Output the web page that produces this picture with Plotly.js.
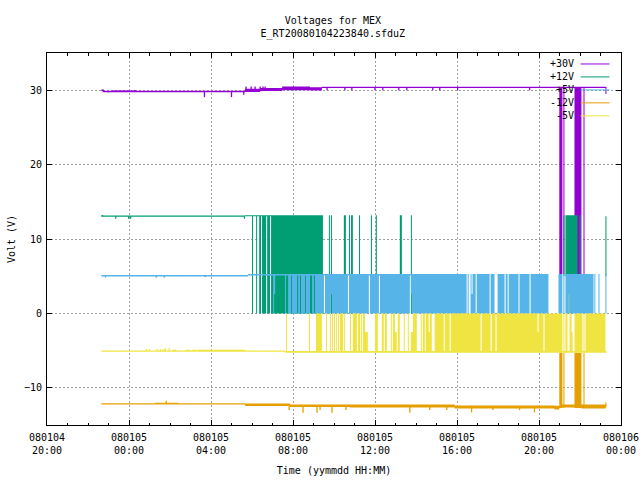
<!DOCTYPE html>
<html><head><meta charset="utf-8">
<script src="https://cdn.plot.ly/plotly-3.0.1.min.js"></script>
<style>html,body{margin:0;padding:0;background:#fff}</style>
</head><body><div id="chart" style="width:640px;height:480px"></div>
<script>
// Time values are hours after 080105 00:00; voltages in volts.
const seriesNames = ["+30V", "+12V", "+5V", "-12V", "-5V"];
const seriesColors = ["#9400D3", "#009E73", "#56B4E9", "#E69F00", "#F0E442"];
const xTickHours = [-4, 0, 4, 8, 12, 16, 20, 24];
const xTickLabels = ["080104<br>20:00", "080105<br>00:00", "080105<br>04:00", "080105<br>08:00", "080105<br>12:00", "080105<br>16:00", "080105<br>20:00", "080106<br>00:00"];

// baseline: [hour, volt]
const line30 = [[-1.35,30],[-1.25,30],[-1.25,29.83],[5.66,29.83]];
const line12 = [[-1.35,13.07],[5.66,13.07]];
const line5 = [[-1.35,5.07],[5.81,5.07]];
const lineM12 = [[-1.35,-12.16],[5.66,-12.16]];
const lineM5 = [[-1.35,-5.07],[7.61,-5.07]];

// bands: [hourStart, hourEnd, low, high]
const bands30 = [[-0.81,0.16,29.75,29.95],[0.21,0.36,29.75,30],[5.66,6.40,29.75,30.2],[6.40,7.47,29.9,30.3],[7.47,8.83,30,30.5],[8.83,9.41,29.95,30.4],[9.41,23.29,30.28,30.48],[23.24,23.29,29.5,30.4],
  [20.99,21.14,5.3,30.4],[21.19,21.24,5.3,30.4],[21.73,22.07,5.3,30.4],[22.17,22.22,5.3,30.4]];
const bands12 = [[-1.35,-1.25,13.07,13.2],[5.66,6.93,13.05,13.2],
  [6.00,6.05,0,13.2],[6.20,6.25,0,13.2],[6.35,6.44,0,13.2],[6.49,6.69,0,13.2],[6.74,6.88,0,13.2],[6.93,9.46,0,13.2],
  [9.75,9.80,0,13.2],[9.85,9.90,0,13.2],[10.48,10.58,0,13.2],[10.73,10.78,0,13.2],[10.83,10.92,0,13.2],[11.22,11.27,0,13.2],[11.80,11.85,0,13.2],[12.04,12.09,0,13.2],[13.21,13.31,0,13.2],[13.75,13.80,0,13.2],
  [21.19,21.24,5,13.2],[21.29,21.88,5,13.2],[21.98,22.03,5,13.2],[21.44,21.49,0,5],[23.24,23.29,5,13.05]];
const bands5 = [[3.67,3.77,4.9,5.07],[5.81,15.16,5.08,5.3],
  [7.03,7.08,0,5.3],[7.08,7.13,2.6,5.3],[7.61,7.66,0,5.3],[7.76,7.91,0,5.3],[7.95,8.20,0,5.3],[8.25,8.34,0,5.3],[8.39,8.59,0,5.3],[8.63,8.83,0,5.3],[8.93,9.02,0,5.3],[9.07,9.51,0,5.3],[9.56,9.85,0,5.3],[9.85,9.90,2.6,5.3],[9.90,10.68,0,5.3],[10.73,11.70,0,5.3],[11.75,12.19,0,5.3],[12.24,13.70,0,5.3],[13.75,13.80,2.6,5.3],[13.80,16.47,0,5.3],[16.52,16.57,0,5.3],[16.66,16.71,0,5.3],[16.71,16.76,0,2.6],[16.76,16.91,0,5.3],[16.96,17.59,0,5.3],[17.64,17.83,0,5.3],[17.98,18.32,0,5.3],[18.37,18.47,0,5.3],[18.52,19.00,0,5.3],[19.05,19.54,0,5.3],[19.59,20.46,0,5.3],[20.95,21.14,0,5.3],[21.19,21.24,0,5.3],[21.29,21.44,0,5.3],[21.44,21.49,2.6,5.3],[21.49,22.66,0,5.3],[22.70,22.75,0,5.3],[22.90,22.95,0,5.3],[23.24,23.29,0,5.3]];
const bandsM12 = [[1.28,2.4,-12.16,-12.0],[5.66,7.85,-12.45,-12.1],[7.85,10.78,-12.58,-12.25],[10.78,15.89,-12.65,-12.25],[15.89,20.75,-12.79,-12.38],[20.75,20.99,-12.9,-12.4],
  [20.99,21.14,-12.7,-5.3],[21.19,21.24,-12.7,-5.3],[21.73,22.07,-12.7,-5.3],[22.17,22.22,-12.7,-5.3],[21.14,21.73,-12.65,-12.25],[22.07,23.24,-12.79,-12.25],[23.24,23.29,-12.65,-11.95]];
const bandsM5 = [[2.12,2.32,-5.07,-4.9],[2.79,2.99,-5.07,-4.9],[3.08,3.28,-5.07,-4.9],[3.33,5.66,-5.07,-4.88],[7.61,23.29,-5.3,-5.05],
  [7.66,7.71,-5.05,0],[8.78,8.83,-5.05,0],[9.12,9.41,-5.05,0],[9.61,9.66,-5.05,0],[9.80,9.85,-5.05,0],[9.90,9.95,-5.05,0],[10.00,10.05,-5.05,0],[10.10,10.14,-5.05,0],[10.19,10.24,-5.05,0],[10.29,10.44,-5.05,0],[10.48,10.53,-5.05,0],[10.78,10.83,-5.05,0],[10.92,11.12,-5.05,0],[11.17,11.27,-5.05,0],[11.31,11.36,-5.05,0],[11.41,11.51,-5.05,0],[11.51,11.65,-5.05,-2.5],[12.00,12.14,-5.05,0],[12.33,12.43,-5.05,0],[12.48,12.58,-5.05,0],[12.77,12.82,-5.05,0],[12.87,12.97,-5.05,0],[12.97,13.06,-5.05,-2.5],[13.11,13.21,-5.05,0],[13.40,13.45,-5.05,0],[13.60,13.65,-5.05,0],[13.75,13.85,-5.05,-2.5],[13.85,14.04,-5.05,0],[14.23,14.28,-5.05,0],[14.33,14.43,-5.05,0],[14.47,14.62,-5.05,0],[14.62,14.67,-5.05,-2.5],[14.67,14.77,-5.05,0],[14.91,15.35,-5.05,0],[15.40,15.64,-5.05,0],[15.69,17.15,-5.05,0],[17.20,17.64,-5.05,0],[17.69,17.88,-5.05,0],[17.93,19.93,-5.05,0],[19.93,19.98,-5.05,-2.5],[19.98,20.22,-5.05,0],[20.27,21.14,-5.05,0],[21.19,21.24,-5.05,0],[21.29,21.39,-5.05,0],[21.49,21.59,-5.05,0],[21.59,21.64,-5.05,-2.5],[21.73,22.12,-5.05,0],[22.17,22.22,-5.05,0],[22.27,23.24,-5.05,0]];

// spikes: [hour, low, high]
const spikes30 = [[-1.0,29.7,29.83],[3.68,29.07,29.83],[5.0,29.07,29.83],[5.6,29.4,29.83],[5.71,29.9,30.5],[5.96,29.9,30.5],[6.15,29.9,30.5],[6.40,29.9,30.5],[6.54,29.9,30.5],[6.64,29.9,30.5],
  [9.66,30,30.4],[10.53,30,30.4],[10.87,30,30.4],[12.0,30,30.4],[12.38,30,30.4],[13.16,30,30.4],[13.55,30,30.4],[14.82,30,30.4],[15.16,30,30.4],[16.03,30,30.4],[19.54,30,30.4]];
const spikes12 = [[-0.65,12.72,13.07],[-0.02,12.72,13.07],[0.08,12.72,13.07],[5.63,12.72,13.07]];
const spikes5 = [[-1.15,4.8,5.07],[1.33,4.8,5.07],[1.72,4.8,5.07]];
const spikesM12 = [[1.82,-12.16,-11.75],[7.81,-13,-12.3],[8.49,-13.35,-12.4],[9.17,-13.35,-12.4],[9.32,-13,-12.4],[9.90,-13.35,-12.4],[10.58,-13,-12.4],[13.70,-13.35,-12.4],[14.67,-13,-12.4],[15.50,-13,-12.4],[16.71,-13.3,-12.4],[17.75,-13,-12.5],[19.05,-13,-12.5],[19.78,-13.3,-12.5]];
const spikesM5 = [[0.84,-5.07,-4.8],[0.99,-5.07,-4.8],[1.38,-5.07,-4.8],[1.53,-5.07,-4.8],[1.67,-5.07,-4.8],[1.77,-5.07,-4.7],[1.96,-5.07,-4.7]];

const lines = [line30, line12, line5, lineM12, lineM5];
const bands = [bands30, bands12, bands5, bandsM12, bandsM5];
const spikes = [spikes30, spikes12, spikes5, spikesM12, spikesM5];

const stamp = h => new Date(Date.UTC(2008, 0, 5) + h * 3600000).toISOString().replace("T", " ").slice(0, 19);
const traces = [];
seriesNames.forEach((name, i) => {
  const color = seriesColors[i];
  traces.push({type: "scatter", mode: "lines", name, showlegend: false, hoverinfo: "skip",
    x: lines[i].map(p => stamp(p[0])), y: lines[i].map(p => p[1]), line: {color, width: 1.4}});
  const bx = [], by = [];
  bands[i].forEach(b => { bx.push(stamp(b[0]), stamp(b[1]), stamp(b[1]), stamp(b[0]), stamp(b[0]), null); by.push(b[2], b[2], b[3], b[3], b[2], null); });
  traces.push({type: "scatter", mode: "lines", name, showlegend: false, hoverinfo: "skip",
    x: bx, y: by, fill: "toself", fillcolor: color, line: {color, width: 0}});
  const sx = [], sy = [];
  spikes[i].forEach(s => { sx.push(stamp(s[0]), stamp(s[0]), null); sy.push(s[1], s[2], null); });
  traces.push({type: "scatter", mode: "lines", name, showlegend: false, hoverinfo: "skip",
    x: sx, y: sy, line: {color, width: 1.3}});
});

const font = {family: "'DejaVu Sans Mono', 'Liberation Mono', monospace", size: 10, color: "#000"};
const W = 640, H = 480, L = 46.5, R = 621.5, T = 52.5, B = 425.5;
const legendRows = [63.5, 76.5, 89.5, 102.5, 115.5];
const px = v => (v - L) / (R - L), py = v => (B - v) / (B - T);

const layout = {
  width: W, height: H, showlegend: false, paper_bgcolor: "#fff", plot_bgcolor: "#fff", font,
  margin: {l: L, r: W - R, t: T, b: H - B, pad: 0},
  title: {text: "Voltages for MEX<br>E_RT20080104223840.sfduZ", font, x: 0.52, xanchor: "center", xref: "container", y: 1 - 24 / H, yanchor: "bottom", yref: "container"},
  xaxis: {type: "date", range: [stamp(-4), stamp(24)], tickmode: "array", tickvals: xTickHours.map(stamp), ticktext: xTickLabels,
    showline: true, linecolor: "#000", linewidth: 1, mirror: "ticks", ticks: "inside", ticklen: 5, tickcolor: "#000", tickwidth: 1, tickangle: 0, ticklabelstandoff: 3,
    showgrid: true, gridcolor: "#a0a0a0", griddash: "2px,2px", gridwidth: 1, zeroline: false,
    minor: {dtick: 3600000, tick0: stamp(-4), ticks: "inside", ticklen: 2.5, tickcolor: "#000", tickwidth: 1, showgrid: false},
    title: {text: "Time (yymmdd HH:MM)", font, standoff: 11}},
  yaxis: {range: [-15, 35], dtick: 10, tick0: 0, showline: true, linecolor: "#000", linewidth: 1, mirror: "ticks", ticks: "inside", ticklen: 5, tickcolor: "#000", tickwidth: 1, ticklabelstandoff: 2,
    showgrid: true, gridcolor: "#a0a0a0", griddash: "2px,2px", gridwidth: 1, zeroline: false,
    title: {text: "Volt (V)", font, standoff: 6}},
  annotations: seriesNames.map((n, i) => ({text: n, xref: "paper", yref: "paper", x: px(576), y: py(legendRows[i]), xanchor: "right", yanchor: "middle", showarrow: false, font})),
  shapes: seriesNames.map((n, i) => ({type: "line", xref: "paper", yref: "paper", x0: px(581), x1: px(610), y0: py(legendRows[i]), y1: py(legendRows[i]), line: {color: seriesColors[i], width: 1}, layer: "above"}))
};
Plotly.newPlot("chart", traces, layout, {staticPlot: true, displayModeBar: false});
</script></body></html>
